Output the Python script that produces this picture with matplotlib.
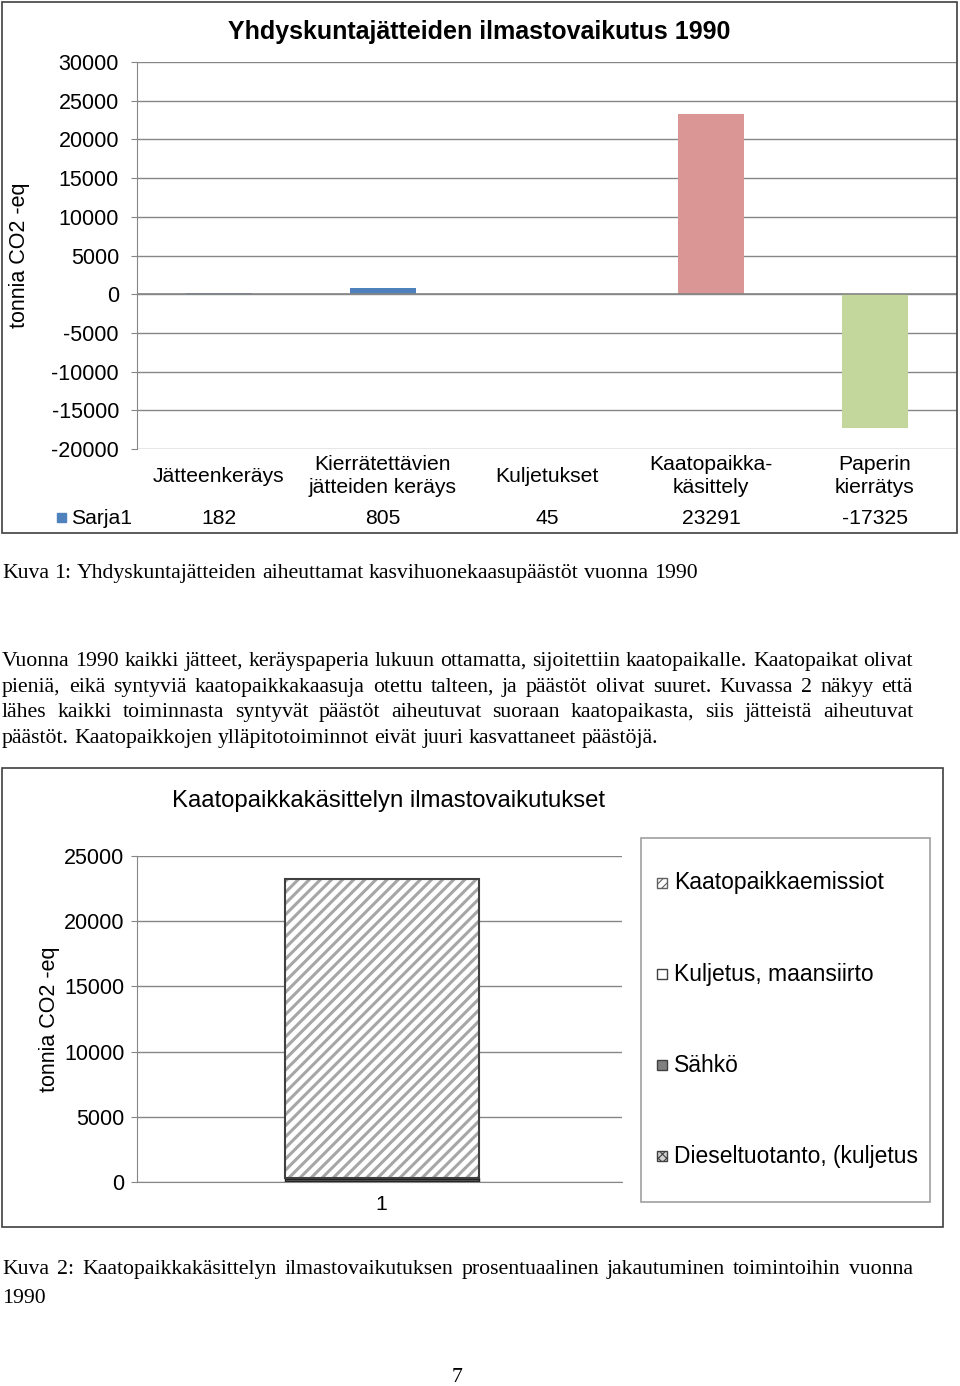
import matplotlib
matplotlib.use('Agg')
import matplotlib.pyplot as plt
from matplotlib.patches import Rectangle

W, H = 960, 1386

# chart 1 data
categories = ['Jätteenkeräys', 'Kierrätettävien\njätteiden keräys', 'Kuljetukset',
              'Kaatopaikka-\nkäsittely', 'Paperin\nkierrätys']
values = [182, 805, 45, 23291, -17325]
bar_colors = ['#4F81BD', '#4F81BD', '#4F81BD', '#D99694', '#C3D69B']
yticks1 = list(range(-20000, 30001, 5000))

# chart 2 data (stacked, bottom to top)
stack_labels = ['Dieseltuotanto, (kuljetus', 'Sähkö', 'Kuljetus, maansiirto', 'Kaatopaikkaemissiot']
stack_values = [60, 170, 80, 22950]
yticks2 = list(range(0, 25001, 5000))

caption1 = 'Kuva 1: Yhdyskuntajätteiden aiheuttamat kasvihuonekaasupäästöt vuonna 1990'
para = ['Vuonna 1990 kaikki jätteet, keräyspaperia lukuun ottamatta, sijoitettiin kaatopaikalle. Kaatopaikat olivat',
        'pieniä, eikä syntyviä kaatopaikkakaasuja otettu talteen, ja päästöt olivat suuret. Kuvassa 2 näkyy että',
        'lähes kaikki toiminnasta syntyvät päästöt aiheutuvat suoraan kaatopaikasta, siis jätteistä aiheutuvat',
        'päästöt. Kaatopaikkojen ylläpitotoiminnot eivät juuri kasvattaneet päästöjä.']
caption2 = ['Kuva 2: Kaatopaikkakäsittelyn ilmastovaikutuksen prosentuaalinen jakautuminen toimintoihin vuonna',
            '1990']

plt.rcParams['font.family'] = 'Liberation Sans'
plt.rcParams['hatch.linewidth'] = 2.2
SERIF = 'Liberation Serif'
SERIF_SIZE = 15.7
GRID = '#868686'

fig = plt.figure(figsize=(W / 100, H / 100), dpi=100)


def rect(x0, y0, x1, y1):
    return [x0 / W, 1 - y1 / H, (x1 - x0) / W, (y1 - y0) / H]


def fx(x):
    return x / W


def fy(y):
    return 1 - y / H


def frame(x0, y0, x1, y1, color='#404040'):
    fig.patches.append(Rectangle((fx(x0), fy(y1)), (x1 - x0) / W, (y1 - y0) / H,
                                 transform=fig.transFigure, fill=False,
                                 edgecolor=color, linewidth=1.2))


def style_axes(ax, yticks, pad=9):
    for s in ['top', 'right', 'bottom']:
        ax.spines[s].set_visible(False)
    ax.spines['left'].set_color(GRID)
    ax.set_yticks(yticks)
    ax.set_yticklabels([str(v) for v in yticks], fontsize=15.5)
    ax.tick_params(axis='y', length=4, color=GRID, pad=pad)
    ax.set_xticks([])
    ax.grid(axis='y', color=GRID, linewidth=1)
    ax.set_axisbelow(True)


# ---------------- chart 1 ----------------
frame(2, 2, 957, 533)
ax1 = fig.add_axes(rect(137, 62, 957, 449))
ax1.bar(range(5), values, width=0.4, color=bar_colors)
ax1.axhline(0, color=GRID, linewidth=1.2)
ax1.set_xlim(-0.5, 4.5)
ax1.set_ylim(-20000, 30000)
style_axes(ax1, yticks1)
ax1.set_ylabel('tonnia CO2 -eq', fontsize=15.5, labelpad=15)
fig.text(fx(479), fy(32), 'Yhdyskuntajätteiden ilmastovaikutus 1990',
         ha='center', va='center', fontsize=18, fontweight='bold')

# data table below chart
for i, (c, v) in enumerate(zip(categories, values)):
    xc = fx(219 + i * 164)
    fig.text(xc, fy(476), c, ha='center', va='center', fontsize=15.2, linespacing=1.25)
    fig.text(xc, fy(518), str(v), ha='center', va='center', fontsize=15.2)
fig.patches.append(Rectangle((fx(57), fy(522)), 9 / W, 9 / H, transform=fig.transFigure,
                             color='#4F81BD'))
fig.text(fx(71), fy(518), 'Sarja1', ha='left', va='center', fontsize=15.2)

# ---------------- text ----------------
renderer = fig.canvas.get_renderer()


def justified(line, y, x0=2, x1=913, justify=True, size=SERIF_SIZE):
    words = line.split(' ')
    ts = [fig.text(fx(x0), fy(y), w, ha='left', va='baseline', family=SERIF, fontsize=size)
          for w in words]
    widths = [t.get_window_extent(renderer).width for t in ts]
    if justify and len(words) > 1:
        gap = (x1 - x0 - sum(widths)) / (len(words) - 1)
    else:
        sp = fig.text(0, 0, 'a a', family=SERIF, fontsize=size)
        aa = fig.text(0, 0, 'aa', family=SERIF, fontsize=size)
        gap = sp.get_window_extent(renderer).width - aa.get_window_extent(renderer).width
        sp.remove()
        aa.remove()
    x = x0
    for t, w in zip(ts, widths):
        t.set_x(fx(x))
        x += w + gap


justified(caption1, 578, justify=False)
for i, line in enumerate(para):
    justified(line, 666 + i * 25.7, justify=(i < 3))

# ---------------- chart 2 ----------------
frame(2, 768, 943, 1227)
ax2 = fig.add_axes(rect(137, 856, 622, 1182))
bottom = 0
for lab, v in zip(stack_labels, stack_values):
    if lab == 'Kaatopaikkaemissiot':
        ax2.bar([0], [v], width=0.4, bottom=bottom, color='white', edgecolor='#A6A6A6',
                hatch='///', linewidth=0)
        ax2.bar([0], [v], width=0.4, bottom=bottom, fill=False, edgecolor='#404040', linewidth=1.5)
    elif lab == 'Sähkö':
        ax2.bar([0], [v], width=0.4, bottom=bottom, color='#808080', edgecolor='#202020', linewidth=1)
    elif lab == 'Kuljetus, maansiirto':
        ax2.bar([0], [v], width=0.4, bottom=bottom, color='white', edgecolor='#202020', linewidth=1)
    else:
        ax2.bar([0], [v], width=0.4, bottom=bottom, color='#202020', edgecolor='#202020', linewidth=1)
    bottom += v
ax2.set_xlim(-0.505, 0.495)
ax2.set_ylim(0, 25000)
style_axes(ax2, yticks2, pad=5)
ax2.set_ylabel('tonnia CO2 -eq', fontsize=15.5, labelpad=3)
ax2.spines['bottom'].set_visible(True)
ax2.spines['bottom'].set_color(GRID)
fig.text(fx(381), fy(1205), '1', ha='center', va='center', fontsize=15.2)
fig.text(fx(388), fy(801), 'Kaatopaikkakäsittelyn ilmastovaikutukset',
         ha='center', va='center', fontsize=17.2)

# legend box
frame(641, 838, 930, 1202, color='#A0A0A0')
legend_y = [883, 974, 1065, 1156]
legend_style = [dict(facecolor='white', hatch='////', edgecolor='#606060'),
                dict(facecolor='white', edgecolor='#404040'),
                dict(facecolor='#808080', edgecolor='#404040'),
                dict(facecolor='#D0D0D0', hatch='xxxx', edgecolor='#404040')]
for lab, y, st in zip(stack_labels[::-1], legend_y, legend_style):
    with plt.rc_context({'hatch.linewidth': 0.8}):
        fig.patches.append(Rectangle((fx(657), fy(y + 5)), 10 / W, 10 / H,
                                     transform=fig.transFigure, linewidth=1, **st))
    fig.text(fx(674), fy(y), lab, ha='left', va='center', fontsize=16.5)

for i, line in enumerate(caption2):
    justified(line, 1274 + i * 29, justify=(i == 0))

fig.text(fx(457), fy(1378), '7', ha='center', va='center', family=SERIF, fontsize=SERIF_SIZE)

fig.savefig('out.png', dpi=100)
